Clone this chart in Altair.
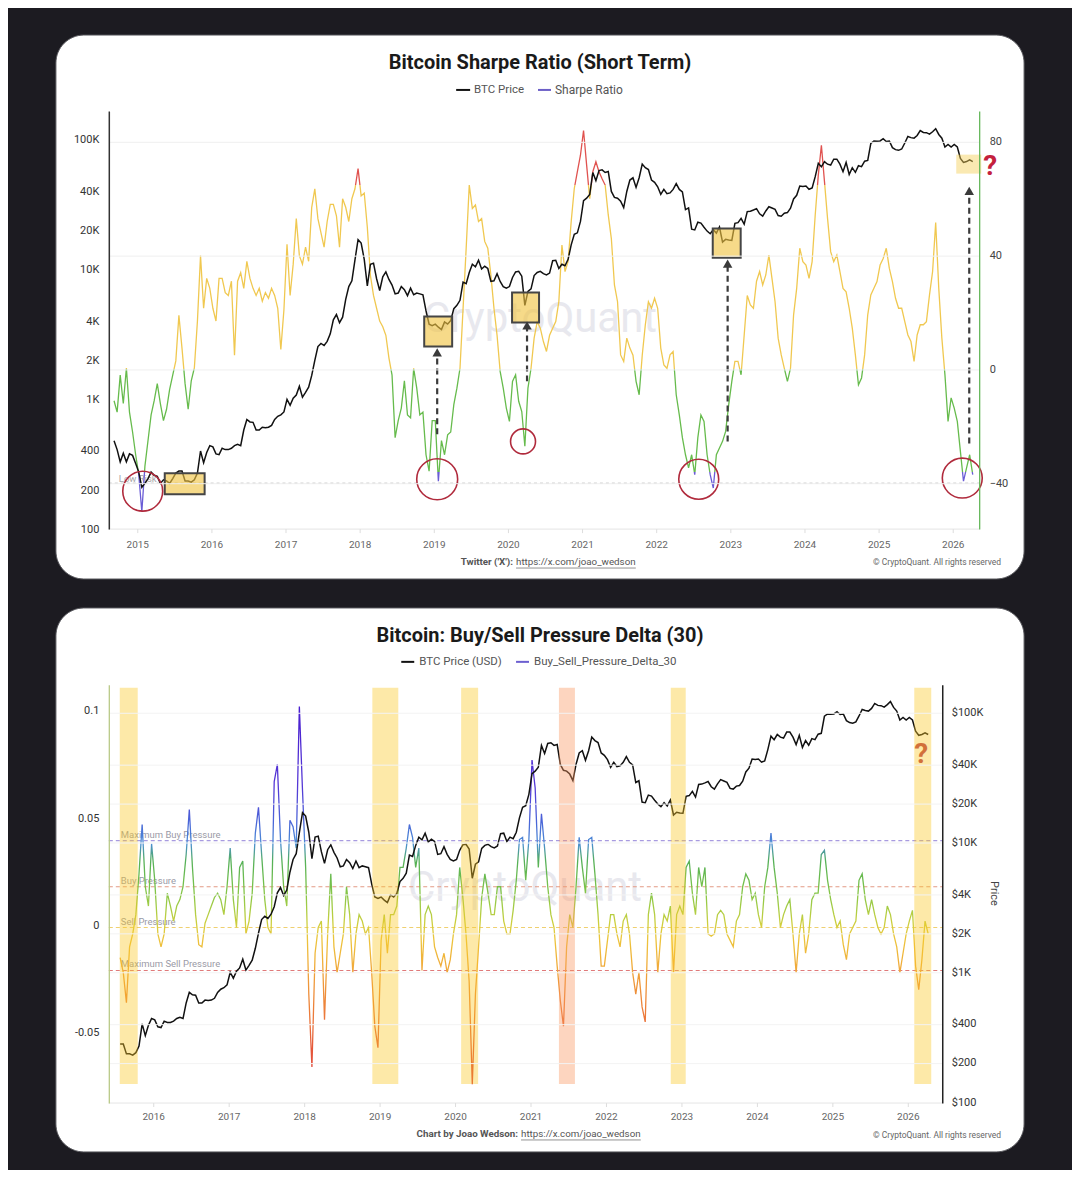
import altair as alt
import pandas as pd

# ------------------------------------------------------------------ data
GRID_START = 2014.68          # decimal year of first sample
GRID_STEP = 1.0 / 24.0        # two samples per month
DELTA_FIRST_SAMPLE = 21       # delta series starts at this sample of the grid

btc_price = [
    480, 410, 330, 385, 330, 380, 370, 320,
    275, 210, 225, 245, 275, 260, 255, 225, 240, 235, 225, 245, 270, 280, 280, 235,
    235, 230, 240, 270, 400, 325, 390, 440,
    430, 380, 375, 420, 410, 410, 420, 440, 450, 440, 580, 700, 670, 665, 580, 580,
    610, 605, 610, 630, 700, 740, 760, 800,
    1000, 900, 1020, 1080, 1260, 1040, 1130, 1240, 1530, 2000, 2550, 2700, 2600, 2800,
    3200, 4100, 4500, 3900, 4300, 5900, 7400, 8200, 11900, 17000,
    16000, 12000, 7500, 11000, 11200, 8500, 6900, 8800, 9600, 8400, 7600, 6500, 6600,
    7400, 7000, 6300, 7200, 6400, 6600, 6500, 6400, 4800, 3800, 3700,
    3800, 3600, 3450, 3950, 3800, 4050, 5000, 5300, 5800, 8000, 7800, 9500, 11000,
    10500, 11800, 10100, 10600, 10200, 8100, 8200, 9300, 8100, 7400, 7200,
    7400, 8700, 9600, 9700, 8900, 5300, 6800, 7100, 9000, 9500, 9700, 9300, 9100,
    9400, 11700, 11800, 10200, 11000, 10700, 12000, 15500, 18700, 19200, 23500,
    34000, 35500, 38000, 56000, 48500, 58000, 58700, 56000, 57000, 40000, 36000, 35500,
    33700, 30000, 40000, 49000, 51000, 43000, 51000, 65000, 61000, 59000, 49000, 47000,
    43500, 38000, 41500, 38500, 39000, 41500, 46000, 41500, 39700, 29000, 29900, 20500,
    20200, 23200, 22800, 21200, 19800, 18900, 20300, 19100, 21300, 16300, 17100, 16900,
    16800, 22700, 23000, 24800, 22400, 28000, 28200, 28800, 29500, 26900, 25800, 28300,
    30500, 29800, 29100, 26100, 25800, 27200, 27500, 29700, 35000, 37400, 44000, 43700,
    44000, 41600, 42600, 52000, 66000, 62000, 68000, 64900, 63900, 71000, 71000, 64900,
    56800, 67000, 54000, 61000, 56200, 63200, 62100, 68400, 69400, 94000, 98000, 97500,
    98000, 102000, 97000, 98000, 87000, 84000, 83000, 85000, 94500, 106000, 104000, 103000,
    108000, 118000, 114000, 113500, 110500, 115500, 122000, 110000, 103000, 88000, 92000, 88000,
    92000, 88000, 72000, 67000, 68000, 70000, 68000,
]

sharpe_ratio = [
    -11, -15, -2, -12, 0.5, -15, -22, -30, -37, -50, -34, -25, -16, -11, -5, -12, -18, -14, -7, -2,
    3, 19, 7.5, -5, -14, -4, 0.5, 17, 40, 21.5, 32, 28.5, 21.5, 17, 32, 32, 27, 26, 31, 5,
    31, 34, 28.5, 38, 32, 28.5, 26, 28.5, 24, 27, 25, 28.5, 26, 21.5, 7, 21, 44, 26, 37, 53,
    40, 37, 43, 38, 57, 63.5, 53, 48, 43, 52, 58, 58, 54, 43, 60, 57, 52, 60, 63.5, 70.6,
    61, 62, 50, 33, 26, 21.5, 17, 15, 12, 4,
    -2, -24, -18, -13.6, -4, -16, -17, 0.4, -6.6, -16, -15, -30, -35.8, -18, -18, -39.3, -25, -30, -23, -22,
    -12.4, -6.6, 0.4, 21.5, 42.6, 64.8, 56.6, 57.8, 52, 53, 45, 42.6, 33.2, 21.5, 12, -0.7, -6.6, -13.6, -18.3, -4.2,
    -1.9, -11.2, -14.8, -27, -6.6, 0.4, 11, 16.8, 14.5, 9.8, 6.3, 12, 14.5, 16.8, 23.8, 43.7, 34.4, 38, 52, 63.6,
    69.5, 75.3, 84, 71.8, 60, 69.5, 73, 69.5, 67, 64.8, 54.3, 46, 29.7, 23.8, 5.1, 2.8, 11, 7.5, 5, -4.2,
    -8.9, 5, 15.7, 23.8, 21.5, 25, 21.5, 7.5, 1.6, 0.4, 5.1, 6.3, -8.9, -16, -24, -30, -34.6, -30, -37, -24,
    -16, -18.3, -30, -37, -41.7, -30, -27.6, -25.3, -21.8, -12.4, -4.2, 2.8, 2.8, -1.9, 12, 26, 22.7, 21.5, 31, 34.4,
    29.7, 33.2, 40.2, 32, 23.8, 11, 5.1, 0.4, -4.2, 0.4, 19.2, 28.5, 42.6, 37.9, 36.7, 32, 37.9, 54.3, 68.3, 78.8,
    66, 53, 41.4, 37.9, 40.2, 34.4, 28.5, 27.3, 21.5, 14.5, 5.1, -5.4, -3, 5.1, 19.2, 26.2, 28.5, 30.9, 36.7, 39,
    42.6, 35.5, 30.9, 25, 21.5, 21.5, 16.8, 12.1, 9.8, 2.8, 12.1, 15.7, 15.7, 16.8, 26.2, 34.4, 51.6, 28.5, 11, -1.9,
    -18.3, -10, -13.6, -18.3, -28.8, -39.3, -34.6, -30, -37,
]

pressure_delta = [
    -0.015, -0.022, -0.036, -0.010, -0.004, 0.005, 0.024, 0.047, 0.018, 0.009,
    0.038, 0.021, -0.004, -0.010, -0.004, 0.015, 0.009, 0.002, 0.009, 0.012,
    0.018, 0.033, 0.054, 0.027, 0.005, -0.009, -0.010, 0.001, 0.005, 0.009,
    0.013, 0.015, 0.012, 0.005, 0.018, 0.036, 0.012, -0.001, 0.027, 0.030,
    -0.004, 0.002, 0.015, 0.043, 0.055, 0.033, 0.012, -0.001, -0.004, 0.067,
    0.075, 0.040, 0.018, 0.009, 0.049, 0.046, 0.036, 0.102, 0.063, 0.027,
    -0.032, -0.066, -0.013, -0.001, 0.002, -0.044, -0.004, 0.024, -0.010, -0.022,
    -0.013, -0.004, 0.018, 0.005, -0.022, -0.004, 0.005, 0.002, -0.004, -0.001,
    -0.022, -0.047, -0.057, -0.007, 0.005, -0.013, 0.005, 0.005, 0.009, 0.027,
    0.027, 0.036, 0.047, 0.041, 0.027, 0.036, -0.021, 0.005, 0.009, 0.005,
    -0.010, -0.015, -0.019, -0.013, -0.022, -0.016, -0.004, 0.005, 0.027, 0.013,
    -0.004, -0.026, -0.074, -0.032, -0.010, 0.013, 0.024, 0.015, 0.005, 0.005,
    0.018, 0.018, 0.002, -0.004, -0.004, 0.007, 0.021, 0.040, 0.041, 0.021,
    0.040, 0.077, 0.064, 0.027, 0.052, 0.036, 0.018, 0.005, -0.001, -0.019,
    -0.035, -0.047, -0.010, 0.005, -0.001, 0.018, 0.041, 0.027, 0.015, 0.040,
    0.041, 0.024, 0.005, -0.019, -0.019, -0.007, 0.005, 0.005, -0.004, -0.010,
    0.002, 0.005, -0.004, -0.022, -0.032, -0.022, -0.038, -0.045, 0.005, 0.015,
    0.005, -0.022, -0.004, 0.005, 0.002, 0.009, -0.022, 0.005, 0.009, 0.005,
    0.027, 0.030, 0.015, 0.005, 0.027, 0.018, 0.027, -0.004, -0.005, -0.004,
    0.005, 0.007, 0.005, -0.004, -0.007, -0.010, 0.002, 0.005, 0.018, 0.024,
    0.021, 0.012, 0.015, 0.005, -0.001, 0.018, 0.027, 0.043, 0.027, 0.015,
    -0.001, 0.005, 0.009, 0.012, -0.004, -0.022, -0.004, 0.005, -0.013, -0.004,
    0.012, 0.015, 0.015, 0.033, 0.035, 0.021, 0.012, 0.005, -0.001, 0.002,
    -0.009, -0.016, -0.004, -0.001, 0.002, 0.021, 0.024, 0.012, 0.005, 0.012,
    0.005, -0.001, -0.004, -0.001, 0.009, 0.005, -0.004, -0.010, -0.022, -0.013,
    -0.004, 0.002, 0.007, -0.019, -0.030, -0.016, 0.002, -0.004,
]

year_ticks_top = list(range(2015, 2027))
year_ticks_bottom = list(range(2016, 2027))
price_ticks = [100, 200, 400, 1000, 2000, 4000, 10000, 20000, 40000, 100000]
sharpe_ticks = [-40, 0, 40, 80]
delta_ticks = [-0.05, 0, 0.05, 0.1]

# annotation data (top chart)
box_t0 = [2015.364, 2018.864, 2020.049, 2022.756]
box_t1 = [2015.902, 2019.241, 2020.413, 2023.133]
box_price_low = [186, 2558, 3903, 12340]
box_price_high = [270, 4349, 6667, 20700]
last_box_t = [2026.041, 2026.378]
last_box_price = [54900, 76900]
circle_t = [2015.067, 2019.039, 2020.197, 2022.567, 2026.122]
circle_sharpe = [-42.8, -38.6, -25.3, -38.6, -38.2]
circle_diameter = [40, 41, 25, 40, 40]
arrow_t = [2019.039, 2020.251, 2022.957, 2026.216]
arrow_from = [-22.8, -4.2, -25.3, -26.0]
arrow_to = [5.96, 15.44, 37.19, 62.8]
low_risk_level = [-40]

# annotation data (bottom chart)
band_t0 = [2015.550, 2018.897, 2020.074, 2021.370, 2022.852, 2026.079]
band_t1 = [2015.788, 2019.241, 2020.299, 2021.582, 2023.050, 2026.304]
band_kind = ["bottom", "bottom", "bottom", "top", "bottom", "bottom"]
band_span = [-0.07395, 0.1107]
level_names = ["Maximum Buy Pressure", "Buy Pressure", "Sell Pressure", "Maximum Sell Pressure"]
level_values = [0.0395, 0.018, -0.001, -0.021]

# ------------------------------------------------------------------ frames
FONT = "Roboto"
ONE = pd.DataFrame({"k": [0]})


def grid_time(i):
    return GRID_START + i * GRID_STEP


price_df = pd.DataFrame({"t": [grid_time(i) for i in range(len(btc_price))], "price": btc_price})
sharpe_df = pd.DataFrame({"t": [grid_time(i) for i in range(len(sharpe_ratio))], "v": sharpe_ratio})
delta_df = pd.DataFrame({"t": [grid_time(DELTA_FIRST_SAMPLE + i) for i in range(len(pressure_delta))],
                         "v": pressure_delta})
price_bot_df = price_df.iloc[DELTA_FIRST_SAMPLE:].reset_index(drop=True)

box_df = pd.DataFrame({"t0": box_t0, "t1": box_t1, "p0": box_price_low, "p1": box_price_high})
last_box_df = pd.DataFrame({"t0": [last_box_t[0]], "t1": [last_box_t[1]],
                            "p0": [last_box_price[0]], "p1": [last_box_price[1]]})
circle_df = pd.DataFrame({"t": circle_t, "v": circle_sharpe, "s": [d * d for d in circle_diameter]})
arrow_df = pd.DataFrame({"t": arrow_t, "v0": arrow_from, "v1": arrow_to})
low_df = pd.DataFrame({"v": low_risk_level})
band_df = pd.DataFrame({"t0": band_t0, "t1": band_t1, "kind": band_kind,
                        "y0": [band_span[0]] * len(band_t0), "y1": [band_span[1]] * len(band_t0)})
level_df = pd.DataFrame({"name": level_names, "v": level_values})
years_top_df = pd.DataFrame({"year": year_ticks_top})
years_bot_df = pd.DataFrame({"year": year_ticks_bottom})


# ------------------------------------------------------------------ helpers
def deco_rect(x1, x2, y1, y2, **kw):
    return alt.Chart(ONE).mark_rect(**kw).encode(
        x=alt.value(x1), x2=alt.value(x2), y=alt.value(y1), y2=alt.value(y2))


def deco_text(text, x, y, size, color, weight="normal", align="center", angle=0, opacity=1.0):
    return alt.Chart(ONE).mark_text(
        text=text, fontSize=size, color=color, fontWeight=weight, align=align,
        baseline="middle", angle=angle, opacity=opacity, font=FONT,
    ).encode(x=alt.value(x), y=alt.value(y))


def deco_hline(x1, x2, y, color, width=1.0):
    return alt.Chart(ONE).mark_rule(color=color, strokeWidth=width).encode(
        x=alt.value(x1), x2=alt.value(x2), y=alt.value(y))


def vertical_gradient(stops, vmax, vmin):
    out = []
    for v, c in stops:
        o = (vmax - v) / (vmax - vmin)
        o = min(1.0, max(0.0, o))
        out.append(alt.GradientStop(offset=o, color=c))
    return alt.LinearGradient(gradient="linear", stops=out, x1=0, x2=0, y1=0, y2=1)


def year_axis(df, scale, width, height, label_y):
    base = deco_hline(0, width, height, "#e4e4e4", 1)
    ticks = alt.Chart(df).mark_rule(color="#dddddd", strokeWidth=1).encode(
        x=alt.X("year:Q", scale=scale, axis=None), y=alt.value(height), y2=alt.value(height + 4))
    labels = alt.Chart(df).mark_text(fontSize=10, color="#666666", font=FONT, baseline="middle").encode(
        x=alt.X("year:Q", scale=scale, axis=None), y=alt.value(label_y),
        text=alt.Text("year:Q", format="d"))
    return [base, ticks, labels]


PRICE_LABEL = "datum.value >= 1000 ? format(datum.value / 1000, 'd') + 'K' : format(datum.value, 'd')"

# ------------------------------------------------------------------ top chart
W_TOP, H_TOP = 872, 419
X_TOP = alt.Scale(domain=[2014.6095, 2026.350], nice=False, zero=False)
Y_PRICE_TOP = alt.Scale(type="log", domain=[100, 167100], nice=False)
Y_SHARPE = alt.Scale(domain=[-56.14, 90.88], nice=False, zero=False)

price_axis_top = alt.Axis(orient="left", values=price_ticks, labelExpr=PRICE_LABEL, title=None, ticks=False,
                          domainColor="#333333", domainWidth=1.5, labelColor="#333333", labelFont=FONT,
                          labelFontSize=11, labelPadding=10, grid=False, zindex=1)
sharpe_axis = alt.Axis(orient="right", values=sharpe_ticks, title=None, ticks=False, domainColor="#66b85c",
                       domainWidth=1.3, labelColor="#444444", labelFont=FONT, labelFontSize=11,
                       labelPadding=10, grid=True, gridColor="#efefef", zindex=1)

RED, YEL, GRN, BLU = "#e0524f", "#f0c850", "#66bb4c", "#6a5cd6"
sh_max, sh_min = max(sharpe_ratio), min(sharpe_ratio)
sharpe_stroke = vertical_gradient(
    [(sh_max, RED), (65, RED), (65, YEL), (0, YEL), (0, GRN), (-36, GRN), (-36, BLU), (sh_min, BLU)],
    sh_max, sh_min)

page_bg = deco_rect(-100, 964, -101, 1059, color="#1c1b21")
card_top = deco_rect(-53, 917, -76, 469, color="#ffffff", cornerRadius=28, stroke="#55555a", strokeWidth=1)
watermark_top = deco_text("CryptoQuant", 432, 209, 42, "#d9d9e3", opacity=0.6)

low_rule = alt.Chart(low_df).mark_rule(color="#b5b5b5", strokeDash=[3, 3], strokeWidth=1).encode(
    y=alt.Y("v:Q", scale=Y_SHARPE, axis=None), x=alt.value(0), x2=alt.value(W_TOP))
low_text = deco_text("Low Risk", 10, 369, 9.5, "#a8a8a8", align="left")

sharpe_line = alt.Chart(sharpe_df).mark_line(stroke=sharpe_stroke, strokeWidth=1.3).encode(
    x=alt.X("t:Q", scale=X_TOP, axis=None),
    y=alt.Y("v:Q", scale=Y_SHARPE, axis=sharpe_axis))

price_line_top = alt.Chart(price_df).mark_line(color="#111111", strokeWidth=1.5).encode(
    x=alt.X("t:Q", scale=X_TOP, axis=None),
    y=alt.Y("price:Q", scale=Y_PRICE_TOP, axis=price_axis_top))

boxes = alt.Chart(box_df).mark_rect(fill="#f0c340", fillOpacity=0.62, stroke="#454545", strokeWidth=2).encode(
    x=alt.X("t0:Q", scale=X_TOP, axis=None), x2="t1:Q",
    y=alt.Y("p0:Q", scale=Y_PRICE_TOP, axis=None), y2="p1:Q")
last_box = alt.Chart(last_box_df).mark_rect(fill="#f5cf55", fillOpacity=0.45).encode(
    x=alt.X("t0:Q", scale=X_TOP, axis=None), x2="t1:Q",
    y=alt.Y("p0:Q", scale=Y_PRICE_TOP, axis=None), y2="p1:Q")

circles = alt.Chart(circle_df).mark_point(shape="circle", filled=False, stroke="#b02a3c", strokeWidth=1.6,
                                          opacity=1).encode(
    x=alt.X("t:Q", scale=X_TOP, axis=None),
    y=alt.Y("v:Q", scale=Y_SHARPE, axis=None),
    size=alt.Size("s:Q", scale=None, legend=None))

arrow_shafts = alt.Chart(arrow_df).mark_rule(color="#3a3a3a", strokeWidth=2.2, strokeDash=[6, 4]).encode(
    x=alt.X("t:Q", scale=X_TOP, axis=None),
    y=alt.Y("v0:Q", scale=Y_SHARPE, axis=None), y2="v1:Q")
arrow_heads = alt.Chart(arrow_df).mark_point(shape="triangle-up", filled=True, color="#3a3a3a", size=90,
                                             opacity=1).encode(
    x=alt.X("t:Q", scale=X_TOP, axis=None),
    y=alt.Y("v1:Q", scale=Y_SHARPE, axis=None))

qmark_top = deco_text("?", 883, 56, 28, "#c4213d", weight="bold")
title_top = deco_text("Bitcoin Sharpe Ratio (Short Term)", 432, -48, 20, "#1a1a1a", weight="bold")
leg_top = [
    deco_hline(348, 362, -21, "#111111", 2),
    deco_text("BTC Price", 366, -21, 11.5, "#555555", align="left"),
    deco_hline(430, 443, -21, "#6c5fc7", 2),
    deco_text("Sharpe Ratio", 447, -21, 12, "#555555", align="left"),
]
foot_top = [
    deco_text("Twitter ('X'):", 405, 452, 9.8, "#555555", weight="bold", align="right"),
    deco_text("https://x.com/joao_wedson", 408, 452, 9.8, "#555555", align="left"),
    deco_hline(408, 528, 458, "#777777", 0.8),
    deco_text("\u00a9 CryptoQuant. All rights reserved", 894, 452, 8.5, "#666666", align="right"),
]

top = alt.layer(
    page_bg, card_top, watermark_top, low_rule, low_text, sharpe_line, price_line_top,
    boxes, last_box, circles, arrow_shafts, arrow_heads,
    *year_axis(years_top_df, X_TOP, W_TOP, H_TOP, 435),
    qmark_top, title_top, *leg_top, *foot_top,
).resolve_scale(y="independent").properties(width=W_TOP, height=H_TOP)

# ------------------------------------------------------------------ bottom chart
W_BOT, H_BOT = 835, 419
X_BOT = alt.Scale(domain=[2015.4048, 2026.4497], nice=False, zero=False)
Y_DELTA = alt.Scale(domain=[-0.08279, 0.11209], nice=False, zero=False)
Y_PRICE_BOT = alt.Scale(type="log", domain=[98.2, 164200], nice=False)

delta_axis = alt.Axis(orient="left", values=delta_ticks, title=None, ticks=False,
                      labelExpr="datum.value == 0 ? '0' : (datum.value < 0 ? '-' + format(-datum.value, '~g') : format(datum.value, '~g'))",
                      domainColor="#b9c987", domainWidth=1.3, labelColor="#333333", labelFont=FONT,
                      labelFontSize=11, labelPadding=10, grid=False, zindex=1)
price_axis_bot = alt.Axis(orient="right", values=price_ticks, labelExpr="'$' + (" + PRICE_LABEL + ")",
                          title=None, ticks=False, domainColor="#222222", domainWidth=1.5,
                          labelColor="#333333", labelFont=FONT, labelFontSize=11, labelPadding=9,
                          grid=True, gridColor="#f3f3f3", zindex=1)

d_max, d_min = max(pressure_delta), min(pressure_delta)
delta_stroke = vertical_gradient([
    (0.100, "#4a1fd0"), (0.065, "#5538d6"), (0.048, "#4a66d8"), (0.038, "#4b8ed4"),
    (0.030, "#55b058"), (0.018, "#78c24a"), (0.008, "#a6cd45"), (0.000, "#d3cf3e"),
    (-0.006, "#ecc53c"), (-0.016, "#f0b23a"), (-0.026, "#ef9a3a"), (-0.040, "#ec7d3a"),
    (-0.058, "#e5573a"), (-0.074, "#de423a"),
], d_max, d_min)

card_bot = deco_rect(-53, 917, -77, 468, color="#ffffff", cornerRadius=28, stroke="#55555a", strokeWidth=1)
watermark_bot = deco_text("CryptoQuant", 417, 204, 42, "#d9d9e3", opacity=0.6)

level_lines = alt.Chart(level_df).mark_rule(strokeDash=[4, 3], strokeWidth=1.1).encode(
    y=alt.Y("v:Q", scale=Y_DELTA, axis=None), x=alt.value(0), x2=alt.value(W_BOT),
    color=alt.Color("name:N", legend=None, scale=alt.Scale(
        domain=level_names, range=["#a89be0", "#e39a85", "#efd070", "#e07a7a"])))
level_text = alt.Chart(level_df).mark_text(align="left", baseline="bottom", fontSize=9.5, color="#9a9aa6",
                                           font=FONT, dy=-1).encode(
    y=alt.Y("v:Q", scale=Y_DELTA, axis=None), x=alt.value(12), text="name:N")

delta_line = alt.Chart(delta_df).mark_line(stroke=delta_stroke, strokeWidth=1.3).encode(
    x=alt.X("t:Q", scale=X_BOT, axis=None),
    y=alt.Y("v:Q", scale=Y_DELTA, axis=delta_axis))
price_line_bot = alt.Chart(price_bot_df).mark_line(color="#111111", strokeWidth=1.5).encode(
    x=alt.X("t:Q", scale=X_BOT, axis=None),
    y=alt.Y("price:Q", scale=Y_PRICE_BOT, axis=price_axis_bot))

bands = alt.Chart(band_df).mark_rect(opacity=0.4).encode(
    x=alt.X("t0:Q", scale=X_BOT, axis=None), x2="t1:Q",
    y=alt.Y("y0:Q", scale=Y_DELTA, axis=None), y2="y1:Q",
    color=alt.Color("kind:N", legend=None, scale=alt.Scale(domain=["bottom", "top"],
                                                           range=["#fac825", "#fa965f"])))

qmark_bot = deco_text("?", 814, 70, 28, "#d2703a", weight="bold")
title_bot = deco_text("Bitcoin: Buy/Sell Pressure Delta (30)", 432, -49, 20, "#1a1a1a", weight="bold")
leg_bot = [
    deco_hline(293, 306, -23, "#111111", 2),
    deco_text("BTC Price (USD)", 311, -23, 11.5, "#555555", align="left"),
    deco_hline(408, 421, -23, "#6c5fd0", 2),
    deco_text("Buy_Sell_Pressure_Delta_30", 426, -23, 11.5, "#555555", align="left"),
]
foot_bot = [
    deco_text("Chart by Joao Wedson:", 410, 450, 9.8, "#555555", weight="bold", align="right"),
    deco_text("https://x.com/joao_wedson", 413, 450, 9.8, "#555555", align="left"),
    deco_hline(413, 533, 456, "#777777", 0.8),
    deco_text("\u00a9 CryptoQuant. All rights reserved", 894, 451, 8.5, "#666666", align="right"),
]
price_title = deco_text("Price", 887, 209, 11, "#444444", angle=90)

bottom = alt.layer(
    card_bot, watermark_bot, level_lines, level_text, delta_line, price_line_bot, bands,
    *year_axis(years_bot_df, X_BOT, W_BOT, H_BOT, 433),
    qmark_bot, title_bot, price_title, *leg_bot, *foot_bot,
).resolve_scale(y="independent", color="independent").properties(width=W_BOT, height=H_BOT)

chart = alt.vconcat(top, bottom, spacing=156, bounds="flush").properties(
    background="#1c1b21", padding=0, autosize=alt.AutoSizeParams(type="pad"),
).configure_view(stroke="transparent")

chart.save("out.html", embed_options={"renderer": "svg", "actions": False})
